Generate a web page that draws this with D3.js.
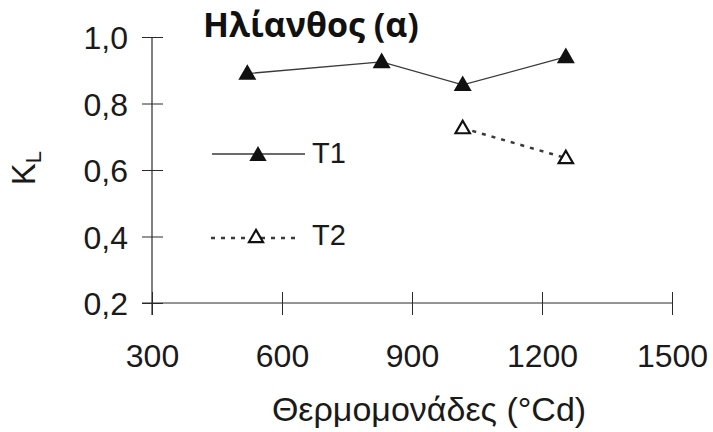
<!DOCTYPE html>
<html>
<head>
<meta charset="utf-8">
<script src="https://cdn.jsdelivr.net/npm/d3@7"></script>
<style>
  html, body { margin: 0; padding: 0; background: #ffffff; }
  svg { display: block; }
</style>
</head>
<body>
<script>
// Data: leaf-area coefficient K_L against thermal time (degree-days)
const thermalTimeT1 = [520, 830, 1017, 1255];
const kT1 = [0.89, 0.925, 0.856, 0.94];
const thermalTimeT2 = [1017, 1255];
const kT2 = [0.726, 0.636];
const xTicks = [300, 600, 900, 1200, 1500];
const yTicks = [0.2, 0.4, 0.6, 0.8, 1.0];
const seriesNames = ["T1", "T2"];
const chartTitle = "Ηλίανθος (α)";
const xTitle = "Θερμομονάδες (°Cd)";

const W = 713, H = 432;
const svg = d3.select("body").append("svg").attr("width", W).attr("height", H);

const x = d3.scaleLinear().domain([300, 1500]).range([152, 672]);
const y = d3.scaleLinear().domain([0.2, 1.0]).range([303, 37]);

const ink = "#2a2a2a";
const fmt = d => d3.format(".1f")(d).replace(".", ",");
const sans = "'Liberation Sans', Arial, sans-serif";

// Y axis: ticks cross the axis line
const yAxis = svg.append("g").attr("transform", `translate(${x(300)},0)`)
  .call(d3.axisLeft(y).tickValues(yTicks).tickSize(10).tickSizeOuter(0).tickFormat(fmt));
yAxis.select(".domain").remove();
yAxis.selectAll(".tick line").attr("x2", -10).attr("x1", 11).attr("stroke", ink);
yAxis.selectAll(".tick text")
  .attr("x", -24).attr("dy", "0.36em")
  .style("font-family", sans).style("font-size", "32px").attr("fill", "#1a1a1a");
svg.append("line").attr("x1", x(300)).attr("x2", x(300))
  .attr("y1", y(1.0)).attr("y2", y(0.2) + 12).attr("stroke", ink).attr("stroke-width", 1.2);

// X axis
const xAxis = svg.append("g").attr("transform", `translate(0,${y(0.2)})`)
  .call(d3.axisBottom(x).tickValues(xTicks).tickSize(12).tickSizeOuter(0).tickFormat(d3.format("d")));
xAxis.select(".domain").remove();
xAxis.selectAll(".tick line").attr("y1", -11).attr("y2", 12).attr("stroke", ink);
xAxis.selectAll(".tick text")
  .attr("y", 64).attr("dy", 0)
  .style("font-family", sans).style("font-size", "32px").attr("fill", "#1a1a1a");
svg.append("line").attr("x1", x(300) - 10).attr("x2", x(1500))
  .attr("y1", y(0.2)).attr("y2", y(0.2)).attr("stroke", ink).attr("stroke-width", 1.2);

// Axis titles
svg.append("text").attr("x", 429).attr("y", 421).attr("text-anchor", "middle")
  .style("font-family", sans).style("font-size", "34px").attr("fill", "#1a1a1a").text(xTitle);

const yt = svg.append("text").attr("transform", "translate(35,168) rotate(-90)")
  .attr("text-anchor", "middle")
  .style("font-family", sans).style("font-size", "33px").attr("fill", "#1a1a1a");
yt.append("tspan").text("K");
yt.append("tspan").attr("dy", 6).style("font-size", "22px").text("L");

// Title
svg.append("text").attr("x", 203).attr("y", 37)
  .style("font-family", "'Open Sans', 'Noto Sans', sans-serif")
  .style("font-weight", "bold").style("font-size", "34px").attr("fill", "#111").text(chartTitle);

// Series lines
const t1 = thermalTimeT1.map((d, i) => [d, kT1[i]]);
const t2 = thermalTimeT2.map((d, i) => [d, kT2[i]]);
const line = d3.line().x(d => x(d[0])).y(d => y(d[1]));

svg.append("path").attr("d", line(t1)).attr("fill", "none")
  .attr("stroke", "#3a3a3a").attr("stroke-width", 1.3);
svg.append("path").attr("d", line(t2)).attr("fill", "none")
  .attr("stroke", "#3a3a3a").attr("stroke-width", 2.5).attr("stroke-dasharray", "4,6");

const tri = d3.symbol().type(d3.symbolTriangle);
svg.selectAll(".m1").data(t1).enter().append("path")
  .attr("d", tri.size(140)())
  .attr("transform", d => `translate(${x(d[0])},${y(d[1]) + 1})`)
  .attr("fill", "#111");
svg.selectAll(".m2").data(t2).enter().append("path")
  .attr("d", tri.size(90)())
  .attr("transform", d => `translate(${x(d[0])},${y(d[1]) + 1})`)
  .attr("fill", "#fff").attr("stroke", "#111").attr("stroke-width", 2.2);

// Legend
const lg = svg.append("g");
lg.append("line").attr("x1", 212).attr("x2", 305).attr("y1", 154).attr("y2", 154)
  .attr("stroke", "#3a3a3a").attr("stroke-width", 1.3);
lg.append("path").attr("d", tri.size(130)()).attr("transform", "translate(258,156)").attr("fill", "#111");
lg.append("text").attr("x", 312).attr("y", 163).text(seriesNames[0]);

lg.append("line").attr("x1", 211).attr("x2", 300).attr("y1", 238).attr("y2", 238)
  .attr("stroke", "#3a3a3a").attr("stroke-width", 2.5).attr("stroke-dasharray", "4,6");
lg.append("path").attr("d", tri.size(85)()).attr("transform", "translate(256,238)")
  .attr("fill", "#fff").attr("stroke", "#111").attr("stroke-width", 2.2);
lg.append("text").attr("x", 312).attr("y", 245).text(seriesNames[1]);
lg.selectAll("text")
  .style("font-family", sans).style("font-size", "29px").attr("fill", "#1a1a1a");
</script>
</body>
</html>
